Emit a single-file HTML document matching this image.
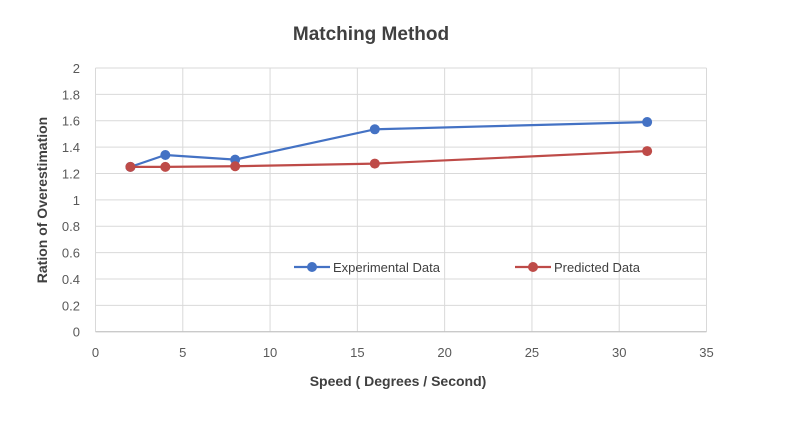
<!DOCTYPE html>
<html><head><meta charset="utf-8"><style>
body{margin:0;background:#fff;width:796px;height:417px;overflow:hidden;font-family:"Liberation Sans",sans-serif}
</style></head><body>
<svg width="796" height="417" id="svg" style="font-family:'Liberation Sans',sans-serif">
<text x="371" y="40" text-anchor="middle" font-size="19" font-weight="bold" fill="#404040">Matching Method</text>
<text x="398" y="386" text-anchor="middle" font-size="14" font-weight="bold" fill="#404040">Speed ( Degrees / Second)</text>
<text transform="translate(47,200) rotate(-90)" text-anchor="middle" font-size="14" font-weight="bold" fill="#404040">Ration of Overestimation</text>
<g id="grid"></g><g id="series"></g>
<g>
<line x1="294" y1="267" x2="330" y2="267" stroke="#4472c4" stroke-width="2.2"/><circle cx="312" cy="267" r="5" fill="#4472c4"/>
<text x="333" y="272" font-size="13" fill="#404040">Experimental Data</text>
<line x1="515" y1="267" x2="551" y2="267" stroke="#be4b48" stroke-width="2.2"/><circle cx="533" cy="267" r="5" fill="#be4b48"/>
<text x="554" y="272" font-size="13" fill="#404040">Predicted Data</text>
</g>
</svg>
<script>
const xTicks=[0,5,10,15,20,25,30,35];
const yTicks=[0,0.2,0.4,0.6,0.8,1,1.2,1.4,1.6,1.8,2];
const speeds=[2,4,8,16,31.6];
const experimental=[1.25,1.34,1.305,1.535,1.59];
const predicted=[1.25,1.25,1.255,1.275,1.37];
const X=v=>95.5+v*(706.5-95.5)/35, Y=v=>331.7-v*(331.7-68)/2;
const ns="http://www.w3.org/2000/svg";
function mk(t,a,p){const e=document.createElementNS(ns,t);for(const k in a)e.setAttribute(k,a[k]);p.appendChild(e);return e;}
const g=document.getElementById('grid');
xTicks.forEach(t=>{const l=mk('line',{x1:X(t),x2:X(t),y1:68,y2:331.7,stroke:'#d9d9d9'},g);


const tx=mk('text',{x:X(t),y:357,'text-anchor':'middle','font-size':13,fill:'#595959'},g);tx.textContent=t;

});
yTicks.forEach(t=>{const l=mk('line',{x1:95.5,x2:706.5,y1:Y(t),y2:Y(t),stroke:'#d9d9d9'},g);


const tx=mk('text',{x:80,y:Y(t)+5,'text-anchor':'end','font-size':13,fill:'#595959'},g);tx.textContent=String(t);

});
const ax=mk('line',{x1:95.5,x2:706.5,y1:331.7,y2:331.7,stroke:'#bfbfbf'},g);


const s=document.getElementById('series');
[[experimental,'#4472c4','experimental'],[predicted,'#be4b48','predicted']].forEach(([d,c,n])=>{
const pl=mk('polyline',{points:d.map((v,i)=>X(speeds[i])+','+Y(v)).join(' '),fill:'none',stroke:c,'stroke-width':2.2},s);


d.forEach((v,i)=>{const p=mk('circle',{cx:X(speeds[i]),cy:Y(v),r:5,fill:c},s);

});});
</script>
</body></html>
